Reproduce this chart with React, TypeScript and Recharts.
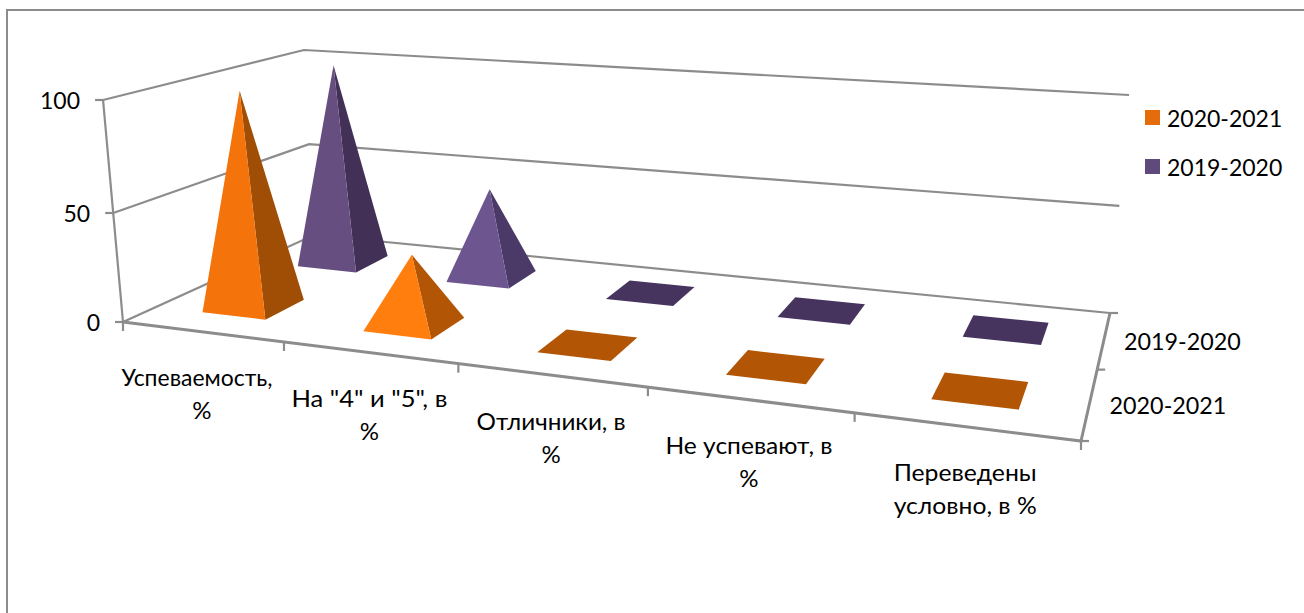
import { Bar, BarChart, Legend, XAxis, YAxis } from 'recharts';

const categories = ['Успеваемость, %', 'На "4" и "5", в %', 'Отличники, в %', 'Не успевают, в %', 'Переведены условно, в %'];
const categoryLines = [
  ['Успеваемость,', '%'],
  ['На "4" и "5", в', '%'],
  ['Отличники, в', '%'],
  ['Не успевают, в', '%'],
  ['Переведены', 'условно, в %'],
];
const values2020 = [100, 32, 0, 0, 0];
const values2019 = [100, 44, 0, 0, 0];
const valueTicks = [0, 50, 100];

const data = categories.map((name, i) => ({ name, s2020: values2020[i], s2019: values2019[i] }));

const WIDTH = 1304;
const HEIGHT = 613;
const PLOT = { left: 100, top: 50, width: 1100, height: 500 };
const FONT = 'Lato, sans-serif';
const GRID = '#8c8c8c';

// measured widths of the wrapped category labels, Lato runs a bit narrow here
const labelWidths = [
  [151, undefined],
  [156, undefined],
  [149, undefined],
  [167, undefined],
  [143, 143],
];
const labelShift = [-5, 0, 0, 0, 0];

type Pt = [number, number];

// unit square -> quad, order: front-left, front-right, back-right, back-left
const homography = (p0: Pt, p1: Pt, p2: Pt, p3: Pt) => {
  const dx1 = p1[0] - p2[0];
  const dx2 = p3[0] - p2[0];
  const dx3 = p0[0] - p1[0] + p2[0] - p3[0];
  const dy1 = p1[1] - p2[1];
  const dy2 = p3[1] - p2[1];
  const dy3 = p0[1] - p1[1] + p2[1] - p3[1];
  const den = dx1 * dy2 - dx2 * dy1;
  const g = (dx3 * dy2 - dx2 * dy3) / den;
  const h = (dx1 * dy3 - dx3 * dy1) / den;
  const a = p1[0] - p0[0] + g * p1[0];
  const b = p3[0] - p0[0] + h * p3[0];
  const d = p1[1] - p0[1] + g * p1[1];
  const e = p3[1] - p0[1] + h * p3[1];
  return (s: number, v: number): Pt => {
    const w = g * s + h * v + 1;
    return [(a * s + b * v + p0[0]) / w, (d * s + e * v + p0[1]) / w];
  };
};

const floor = homography([123, 322], [1081, 441], [1110, 313], [314, 235]);
const ceiling = homography([103, 100], [1105, 161], [1129, 95], [303, 50]);
// vertical edges of the box converge here, far below the chart
const verticalVanish: Pt = [623, 5887];

// s: along categories 0..1, v: depth 0..1, t: value 0..1
const project = (s: number, v: number, t: number): Pt => {
  const f = floor(s, v);
  const eased = t - 0.036 * t * (1 - t);
  const y = f[1] + (ceiling(s, v)[1] - f[1]) * eased;
  const lean = (f[0] - verticalVanish[0]) / (verticalVanish[1] - f[1]);
  return [f[0] + lean * (f[1] - y), y];
};

const pts = (list: Pt[]) => list.map((p) => `${p[0]},${p[1]}`).join(' ');

const toS = (x: number) => (x - PLOT.left) / PLOT.width;
const toT = (y: number) => (PLOT.top + PLOT.height - y) / PLOT.height;

const seriesDepth = {
  front: [0.15, 0.35],
  back: [0.65, 0.85],
};

const pyramid =
  (depth: number[], lightFaces: string[], darkFaces: string[]) =>
  (props: any) => {
    const { x, y, width, index } = props;
    const s0 = toS(x);
    const s1 = toS(x + width);
    const t = toT(y);
    const fl = project(s0, depth[0], 0);
    const fr = project(s1, depth[0], 0);
    const br = project(s1, depth[1], 0);
    const bl = project(s0, depth[1], 0);
    if (t <= 0.001) {
      return <polygon points={pts([fl, fr, br, bl])} fill={darkFaces[index]} />;
    }
    const apex = project((s0 + s1) / 2, (depth[0] + depth[1]) / 2, t);
    return (
      <g>
        <polygon points={pts([fr, br, apex])} fill={darkFaces[index]} />
        <polygon points={pts([fl, fr, apex])} fill={lightFaces[index]} />
      </g>
    );
  };

const orangeLight = ['#f4730b', '#ff7e0e', '#f4730b', '#f4730b', '#f4730b'];
const orangeDark = ['#a04d05', '#b25505', '#b25505', '#b25505', '#b25505'];
const purpleLight = ['#664f80', '#6d5590', '#664f80', '#664f80', '#664f80'];
const purpleDark = ['#433057', '#4b3a68', '#46345f', '#46345f', '#46345f'];

const Walls = () => (
  <g fill="none" stroke={GRID} strokeWidth={2.2}>
    {valueTicks.map((tick) => {
      const t = tick / 100;
      return (
        <polyline key={tick} points={pts([project(0, 0, t), project(0, 1, t), project(1, 1, t)])} />
      );
    })}
    <line x1={project(0, 0, 0)[0]} y1={project(0, 0, 0)[1]} x2={project(0, 0, 1)[0]} y2={project(0, 0, 1)[1]} />
    <polyline strokeWidth={3} points={pts([project(0, 0, 0), project(1, 0, 0), project(1, 1, 0)])} />
    {[0, 1, 2, 3, 4, 5].map((i) => {
      const p = project(i / 5, 0, 0);
      return <line key={i} x1={p[0]} y1={p[1]} x2={p[0]} y2={p[1] + 9} />;
    })}
    {[0, 0.5, 1].map((v) => {
      const p = project(1, v, 0);
      return <line key={v} x1={p[0]} y1={p[1]} x2={p[0] + 8} y2={p[1]} />;
    })}
  </g>
);

const SeriesLabels = () => (
  <g fontFamily={FONT} fontSize={23.3} fill="#000">
    {[
      { label: '2019-2020', v: 0.75 },
      { label: '2020-2021', v: 0.25 },
    ].map(({ label, v }) => {
      const p = project(1, v, 0);
      return (
        <text key={label} x={p[0] + 20} y={p[1] + 1.5} dominantBaseline="central">
          {label}
        </text>
      );
    })}
  </g>
);

const CategoryTick = (props: any) => {
  const { x, index } = props;
  const p = project(toS(x), 0, 0);
  return (
    <g fontFamily={FONT} fontSize={24} fill="#000" textAnchor="middle">
      {categoryLines[index].map((line, i) => (
        <text
          key={line}
          x={p[0] + (i === 0 ? labelShift[index] : 0)}
          y={p[1] + 45 + i * 33}
          dominantBaseline="central"
          textLength={labelWidths[index][i]}
          lengthAdjust="spacingAndGlyphs"
        >
          {line}
        </text>
      ))}
    </g>
  );
};

const ValueTick = (props: any) => {
  const { y, payload } = props;
  const p = project(0, 0, toT(y));
  return (
    <g>
      <line x1={p[0] - 8} y1={p[1]} x2={p[0]} y2={p[1]} stroke={GRID} strokeWidth={2.2} />
      <text x={p[0] - 23} y={p[1]} textAnchor="end" dominantBaseline="central" fontFamily={FONT} fontSize={23} fill="#000">
        {payload.value}
      </text>
    </g>
  );
};

const LegendContent = ({ payload }: any) => (
  <div style={{ fontFamily: FONT, fontSize: 23, color: '#000' }}>
    {[...(payload ?? [])].reverse().map((item: any) => (
      <div key={item.value} style={{ display: 'flex', alignItems: 'center', height: 49 }}>
        <span style={{ width: 15, height: 15, background: item.color, marginRight: 7 }} />
        {item.value}
      </div>
    ))}
  </div>
);

export default function App() {
  return (
    <div style={{ position: 'absolute', left: 0, top: 0, width: WIDTH, height: HEIGHT, overflow: 'hidden', background: '#fff' }}>
      <div style={{ position: 'absolute', left: 6, top: 9, width: WIDTH, height: HEIGHT, border: '2px solid #8c8c8c' }} />
      <BarChart
        width={WIDTH}
        height={HEIGHT}
        data={data}
        barCategoryGap="30%"
        margin={{ left: PLOT.left - 1, top: PLOT.top, right: WIDTH - PLOT.left - PLOT.width, bottom: HEIGHT - PLOT.top - PLOT.height - 1 }}
        style={{ position: 'absolute', left: 0, top: 0 }}
      >
        <Walls />
        <XAxis xAxisId="back" dataKey="name" height={1} axisLine={false} tickLine={false} tick={CategoryTick} interval={0} />
        <XAxis xAxisId="front" dataKey="name" height={1} hide />
        <YAxis width={1} domain={[0, 100]} ticks={valueTicks} axisLine={false} tickLine={false} tick={ValueTick} />
        <Bar
          xAxisId="back"
          dataKey="s2019"
          name="2019-2020"
          fill="#604a7b"
          shape={pyramid(seriesDepth.back, purpleLight, purpleDark)}
          isAnimationActive={false}
        />
        <Bar
          xAxisId="front"
          dataKey="s2020"
          name="2020-2021"
          fill="#e46c0a"
          shape={pyramid(seriesDepth.front, orangeLight, orangeDark)}
          isAnimationActive={false}
        />
        <SeriesLabels />
        <Legend
          layout="vertical"
          align="center"
          verticalAlign="middle"
          content={LegendContent}
          wrapperStyle={{ left: 1145, top: 93, width: 155 }}
        />
      </BarChart>
    </div>
  );
}
